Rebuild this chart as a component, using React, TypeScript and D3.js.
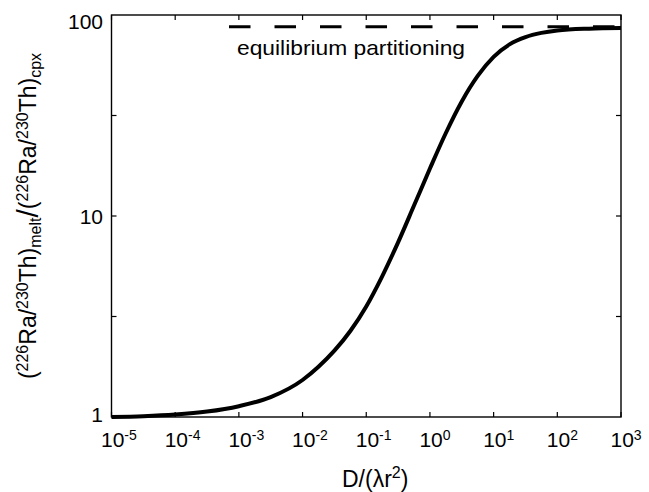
import React from "react";
import * as d3 from "d3";

// Diffusion parameter D/(λr²) and the resulting melt/cpx activity-ratio enrichment
const diffParam: number[] = [
  1e-5, 3.162e-5, 1e-4, 3.162e-4, 1e-3, 3.162e-3, 1e-2, 1.778e-2, 3.162e-2, 5.623e-2,
  1e-1, 1.778e-1, 3.162e-1, 5.623e-1, 1, 1.778, 3.162, 5.623, 10, 17.78, 31.62, 56.23,
  100, 316.2, 1000,
];
const ratio: number[] = [
  1.0, 1.009, 1.028, 1.064, 1.132, 1.256, 1.528, 1.778, 2.138, 2.679,
  3.548, 5.012, 7.396, 11.27, 17.22, 25.88, 37.15, 49.77, 61.94, 71.45, 77.62, 81.47,
  83.75, 85.51, 86.1,
];

// Equilibrium partitioning limit and where its dashed guide begins
const equilibriumRatio = 87.5;
const equilibriumStart = 7e-4;

const xDecades: number[] = [-5, -4, -3, -2, -1, 0, 1, 2, 3];
const yTickLabels: number[] = [1, 10, 100];
const yMinorTicks: number[] = [3.1623, 10, 31.623];

const W = 649;
const H = 492;
const M = { left: 111.5, right: 621, top: 15, bottom: 417 };
const FONT = "'Liberation Sans', Arial, Helvetica, sans-serif";

export default function App() {
  const x = d3.scaleLog().domain([1e-5, 1e3]).range([M.left, M.right]);
  const y = d3.scaleLog().domain([1, 100]).range([M.bottom, M.top]);

  const pts: [number, number][] = diffParam.map((d, i) => [d, ratio[i]]);
  const line = d3
    .line<[number, number]>()
    .x((d) => x(d[0]))
    .y((d) => y(d[1]))
    .curve(d3.curveMonotoneX);

  const tickLen = 5;

  return (
    <svg
      width={W}
      height={H}
      style={{ position: "absolute", left: 0, top: 0, background: "#fff" }}
      fontFamily={FONT}
    >
      <rect x={0} y={0} width={W} height={H} fill="#fff" />

      {/* equilibrium partitioning guide */}
      <line
        x1={x(equilibriumStart)}
        x2={x(1e3)}
        y1={y(equilibriumRatio)}
        y2={y(equilibriumRatio)}
        stroke="#000"
        strokeWidth={3}
        strokeDasharray="21.5 24"
      />
      <text
        x={x(equilibriumStart) + 8}
        y={y(equilibriumRatio) + 28}
        fontSize={21}
        textLength={228}
        lengthAdjust="spacingAndGlyphs"
      >
        equilibrium partitioning
      </text>

      {/* model curve */}
      <path d={line(pts) ?? ""} fill="none" stroke="#000" strokeWidth={4} strokeLinejoin="round" />

      {/* axes box */}
      <rect
        x={M.left}
        y={M.top}
        width={M.right - M.left}
        height={M.bottom - M.top}
        fill="none"
        stroke="#000"
        strokeWidth={1.4}
      />

      {/* x ticks, inward on bottom and top */}
      {xDecades.map((e) => {
        const xp = x(Math.pow(10, e));
        return (
          <g key={"xt" + e}>
            <line x1={xp} x2={xp} y1={M.bottom} y2={M.bottom - tickLen} stroke="#000" strokeWidth={1.2} />
            <line x1={xp} x2={xp} y1={M.top} y2={M.top + tickLen} stroke="#000" strokeWidth={1.2} />
            <text x={xp - 10.5} y={447} fontSize={21}>
              10
              <tspan fontSize={14} dy={-7}>
                {e < 0 ? "-" + Math.abs(e) : String(e)}
              </tspan>
            </text>
          </g>
        );
      })}

      {/* y ticks, inward on left and right */}
      {yMinorTicks.map((v) => {
        const yp = y(v);
        return (
          <g key={"yt" + v}>
            <line x1={M.left} x2={M.left + tickLen} y1={yp} y2={yp} stroke="#000" strokeWidth={1.2} />
            <line x1={M.right} x2={M.right - tickLen} y1={yp} y2={yp} stroke="#000" strokeWidth={1.2} />
          </g>
        );
      })}
      {yTickLabels.map((v) => {
        const yc = Math.min(Math.max(y(v), M.top + 6), M.bottom - 3);
        return (
          <text key={"yl" + v} x={103} y={yc + 7.5} fontSize={21} textAnchor="end">
            {v}
          </text>
        );
      })}

      {/* x axis title */}
      <text x={342} y={487} fontSize={23}>
        D/(λr
        <tspan fontSize={16} dy={-9}>
          2
        </tspan>
        <tspan dy={9}>)</tspan>
      </text>

      {/* y axis title */}
      <text transform={`translate(36,${(M.top + M.bottom) / 2}) rotate(-90)`} textAnchor="middle" fontSize={23}>
        (
        <tspan fontSize={16} dy={-8}>226</tspan>
        <tspan dy={8}>Ra/</tspan>
        <tspan fontSize={16} dy={-8}>230</tspan>
        <tspan dy={8}>Th)</tspan>
        <tspan fontSize={16} dy={5}>melt</tspan>
        <tspan fontSize={30} dy={-3}>/</tspan>
        <tspan dy={-2}>(</tspan>
        <tspan fontSize={16} dy={-8}>226</tspan>
        <tspan dy={8}>Ra/</tspan>
        <tspan fontSize={16} dy={-8}>230</tspan>
        <tspan dy={8}>Th)</tspan>
        <tspan fontSize={16} dy={5}>cpx</tspan>
      </text>
    </svg>
  );
}
